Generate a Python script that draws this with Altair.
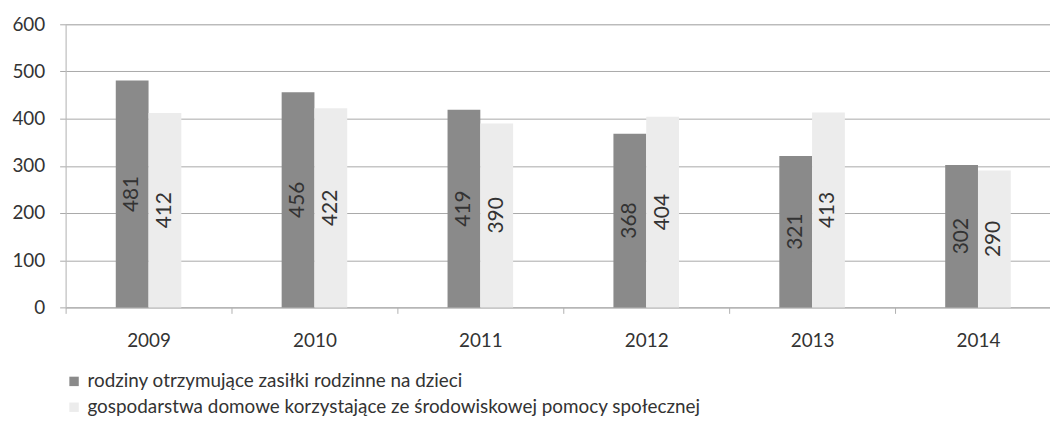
import altair as alt
import pandas as pd

years = ["2009", "2010", "2011", "2012", "2013", "2014"]
series_names = [
    "rodziny otrzymujące zasiłki rodzinne na dzieci",
    "gospodarstwa domowe korzystające ze środowiskowej pomocy społecznej",
]
families = [481, 456, 419, 368, 321, 302]
households = [412, 422, 390, 404, 413, 290]
y_ticks = [0, 100, 200, 300, 400, 500, 600]

rows = []
for i, yr in enumerate(years):
    rows.append({"year": yr, "series": series_names[0], "value": families[i]})
    rows.append({"year": yr, "series": series_names[1], "value": households[i]})
df = pd.DataFrame(rows)

FONT = "Lato"
offset_domain = ["_a"] + series_names + ["_b"]

base = alt.Chart(df).encode(
    x=alt.X(
        "year:N",
        sort=years,
        scale=alt.Scale(range=[0, 1002], paddingInner=0, paddingOuter=0),
        axis=alt.Axis(
            title=None,
            labelAngle=0,
            tickBand="extent",
            tickSize=6,
            tickColor="#b0b0b0",
            domainColor="#b0b0b0",
            labelFontSize=19,
            labelFont=FONT,
            labelColor="#333333",
            labelPadding=18,
            grid=False,
        ),
    ),
    xOffset=alt.XOffset(
        "series:N",
        scale=alt.Scale(domain=offset_domain, paddingInner=0, paddingOuter=0.53),
    ),
)

bars = base.mark_bar().encode(
    y=alt.Y(
        "value:Q",
        scale=alt.Scale(domain=[0, 600], nice=False),
        axis=alt.Axis(
            title=None,
            values=y_ticks,
            tickSize=6,
            tickColor="#a8a8a8",
            gridColor="#a8a8a8",
            gridWidth=1,
            domainColor="#c0c0c0",
            labelFontSize=19,
            labelFont=FONT,
            labelColor="#333333",
            labelPadding=15,
        ),
    ),
    color=alt.Color(
        "series:N",
        sort=series_names,
        scale=alt.Scale(domain=series_names, range=["#8a8a8a", "#ececec"]),
        legend=alt.Legend(
            title=None,
            orient="none",
            legendX=-1,
            legendY=350,
            direction="vertical",
            symbolType="square",
            symbolSize=90,
            symbolStrokeWidth=0,
            symbolOpacity=1,
            labelFontSize=19,
            labelFont=FONT,
            labelColor="#333333",
            labelOffset=4,
            rowPadding=6,
            padding=0,
            labelLimit=900,
        ),
    ),
)

labels = base.transform_calculate(mid="datum.value / 2").mark_text(
    angle=270, fontSize=21, font=FONT, color="#333333", align="center", baseline="middle"
).encode(
    y=alt.Y("mid:Q"),
    text=alt.Text("value:Q"),
)

chart = alt.layer(bars, labels).properties(
    width=991,
    height=285,
    autosize=alt.AutoSizeParams(type="none"),
    padding={"left": 58, "top": 15, "right": 0, "bottom": 117},
).configure_view(stroke=None).configure(background="white")

chart.save("out.html", embed_options={"renderer": "svg", "actions": False})
